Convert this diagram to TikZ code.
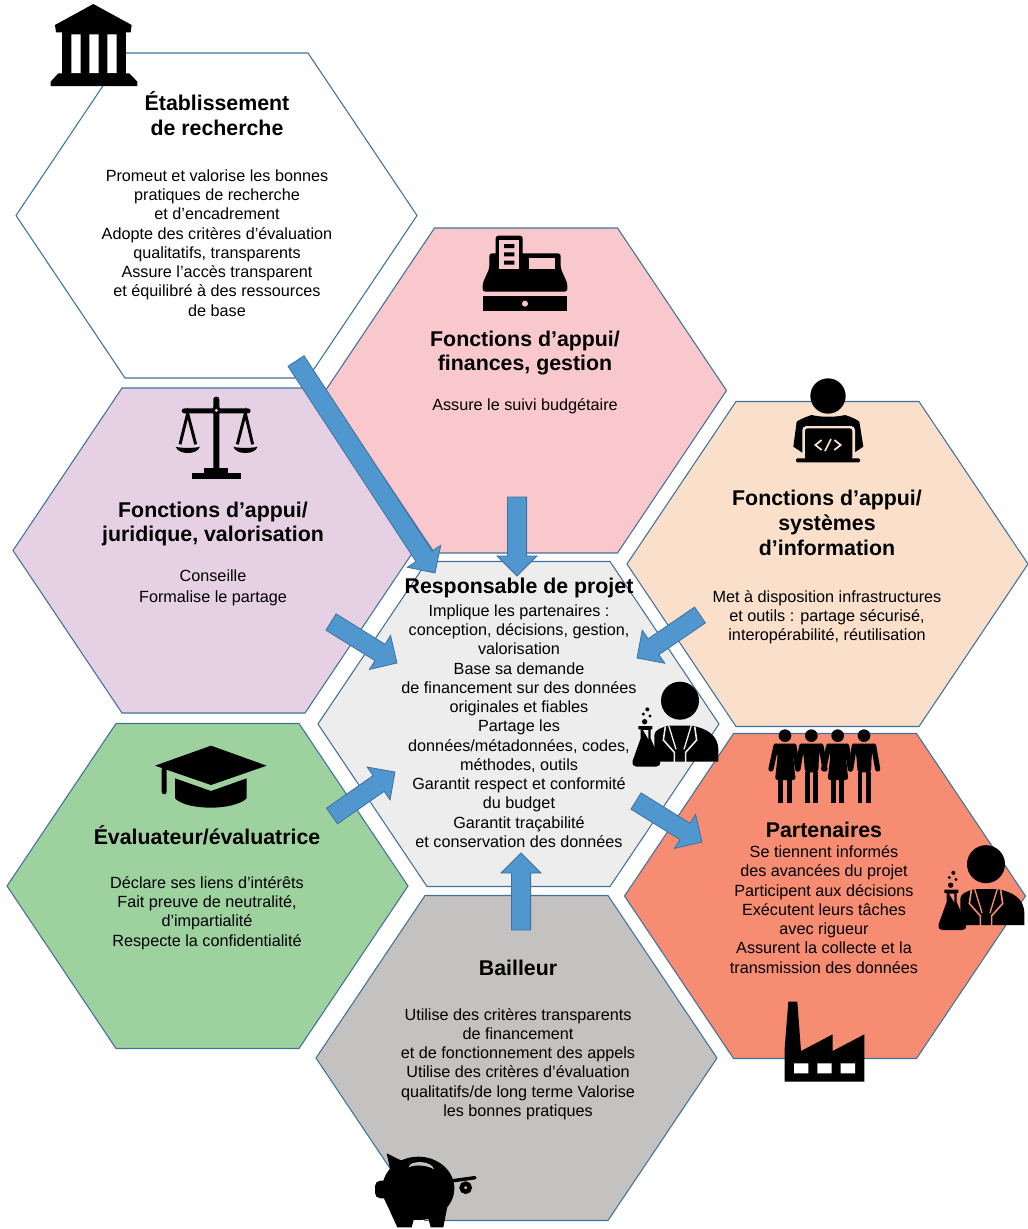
\documentclass[tikz,border=0pt]{standalone}
\usepackage{fontspec}
\setmainfont{Liberation Sans}
\usetikzlibrary{calc}
\definecolor{hexline}{HTML}{41719C}
\definecolor{arrowfill}{HTML}{5097D0}
\definecolor{cpink}{HTML}{F9C8CC}
\definecolor{cpurple}{HTML}{E6D0E4}
\definecolor{cpeach}{HTML}{FADFCB}
\definecolor{cgreen}{HTML}{9DD29F}
\definecolor{corange}{HTML}{F68C71}
\definecolor{cgrey}{HTML}{C3C2C0}
\definecolor{ccentre}{HTML}{EDEDED}
\tikzset{
  hexa/.style={draw=hexline,line width=0.8pt,line join=miter},
  blockarrow/.style={draw=hexline,fill=arrowfill,line width=0.6pt,line join=miter},
  zoomed/.style 2 args={shift={(#1,#2)},x=0.25pt,y=-0.25pt},
  titletext/.style={inner sep=0pt,align=center,font=\fontsize{16}{18.7}\selectfont\bfseries},
  bodytext/.style={inner sep=0pt,align=center,font=\fontsize{12.15}{14.44}\selectfont},
}
\newcommand{\hexagonat}[3]{%
  \draw[hexa,fill=#3] (#1-200.5,#2) -- (#1-91.5,#2-162.5) -- (#1+91.5,#2-162.5) -- (#1+200.5,#2) -- (#1+91.5,#2+162.5) -- (#1-91.5,#2+162.5) -- cycle;}
\newcommand{\blockarr}[2]{%
  \coordinate (n) at ($(#2)!15pt!(#1)$);
  \draw[blockarrow] ($(#1)!7.2pt!90:(#2)$) -- ($(n)!7.2pt!90:(#2)$) -- ($(n)!15pt!90:(#2)$) -- (#2) -- ($(n)!15pt!-90:(#2)$) -- ($(n)!7.2pt!-90:(#2)$) -- ($(#1)!7.2pt!-90:(#2)$) -- cycle;}
\newcommand{\scientist}[1]{%
  \fill (180,92) circle (57);
  \fill (104,275) -- (103,195) .. controls (103,180) and (125,172) .. (145,167) -- (215,167) .. controls (260,175) and (295,195) .. (295,240) -- (295,275) -- cycle;
  \draw[#1,line width=1.2pt] (136,170) -- (130,210) -- (163,247) -- (163,278);
  \draw[#1,line width=1.2pt] (224,170) -- (230,210) -- (197,247) -- (197,278);
  \draw[#1,line width=1pt] (146,166) -- (168,238);
  \draw[#1,line width=1pt] (214,166) -- (192,238);
  \fill[#1] (95,170) rectangle (103,285);
  \fill (55,168) -- (97,168) -- (97,178) -- (92,178) -- (92,205) -- (120,272) .. controls (123,285) and (115,290) .. (108,290) -- (50,290) .. controls (42,290) and (35,285) .. (38,272) -- (62,205) -- (62,178) -- (55,178) -- cycle;
  \fill[#1] (69,180) -- (85,180) -- (85,207) -- cycle;
  \fill (74,155) circle (8);
  \fill (70,132) circle (5);
  \fill (82,118) circle (6);
  \fill (90,138) circle (5);}
\newcommand{\womanfig}[2]{\begin{scope}[shift={(#1,#2)}]
  \fill (0,0) circle (19);
  \fill[rounded corners=2pt] (-30,24) -- (30,24) -- (24,60) -- (32,133) -- (-30,133) -- (-22,60) -- cycle;
  \fill (-20,133) rectangle (-5,201);
  \fill (5,133) rectangle (20,201);
  \draw[line width=3.9pt,line cap=round] (-27,31) -- (-42,100);
  \draw[line width=3.9pt,line cap=round] (27,31) -- (38,100);
\end{scope}}
\newcommand{\manfig}[2]{\begin{scope}[shift={(#1,#2)}]
  \fill (0,0) circle (19);
  \fill[rounded corners=2pt] (-33,24) -- (33,24) -- (23,60) -- (21,110) -- (-19,110) -- (-23,60) -- cycle;
  \fill (-19,108) rectangle (-5,201);
  \fill (6,108) rectangle (21,201);
  \draw[line width=3.9pt,line cap=round] (-29,31) -- (-40,100);
  \draw[line width=3.9pt,line cap=round] (29,31) -- (41,100);
\end{scope}}
\begin{document}
\begin{tikzpicture}[x=0.75pt,y=-0.75pt]
\useasboundingbox (0,0) rectangle (1028,1229);
% hexagons
\hexagonat{216.5}{215.5}{white}
\hexagonat{526}{390.5}{cpink}
\hexagonat{213.5}{550.5}{cpurple}
\hexagonat{827.5}{564}{cpeach}
\hexagonat{518.5}{724}{ccentre}
\hexagonat{207.5}{886}{cgreen}
\hexagonat{825}{896}{corange}
\hexagonat{516.5}{1058}{cgrey}
% arrows
\coordinate (a1s) at (296,361); \coordinate (a1t) at (435,573);
\coordinate (a2s) at (517,497); \coordinate (a2t) at (517,576);
\coordinate (a3s) at (331,622); \coordinate (a3t) at (397,663);
\coordinate (a4s) at (700,615); \coordinate (a4t) at (637,658);
\coordinate (a5s) at (332,816); \coordinate (a5t) at (395,772);
\coordinate (a6s) at (521,930); \coordinate (a6t) at (521,853);
\coordinate (a7s) at (636,801); \coordinate (a7t) at (702,842);
\blockarr{a1s}{a1t}
\blockarr{a2s}{a2t}
\blockarr{a3s}{a3t}
\blockarr{a4s}{a4t}
\blockarr{a5s}{a5t}
\blockarr{a6s}{a6t}
\blockarr{a7s}{a7t}
% bank
\begin{scope}[zoomed={30}{0}]
  \fill (190,12) -- (305,75) -- (302,97) -- (78,97) -- (75,75) -- cycle;
  \fill (97,97) rectangle (287,222);
  \fill[white] (124,103) rectangle (152,220) (178,103) rectangle (206,220) (232,103) rectangle (260,220);
  \fill (85,220) -- (298,220) -- (322,245) -- (322,258) -- (62,258) -- (62,245) -- cycle;
\end{scope}
% cash register
\begin{scope}[zoomed={460}{225}]
  \fill[rounded corners=2pt] (107,32) rectangle (188,140);
  \fill[rounded corners=2pt] (88,85) -- (88,130) -- (68,175) -- (68,200) -- (322,200) -- (322,175) -- (302,130) -- (302,85) -- cycle;
  \fill[cpink] (118,45) rectangle (176,132);
  \fill (132,57) rectangle (163,69) (132,82) rectangle (163,94) (132,107) rectangle (163,119);
  \fill[cpink] (208,100) rectangle (285,132);
  \fill (68,213) rectangle (322,258);
  \fill[cpink] (195,236) circle (9);
\end{scope}
% scales
\begin{scope}[zoomed={160}{385}]
  \fill[rounded corners=2pt] (160,35) rectangle (178,265);
  \fill[rounded corners=2pt] (65,70) rectangle (272,85);
  \fill (169,76) circle (13);
  \fill[cpurple] (169,76) circle (5);
  \fill (132,250) rectangle (205,265);
  \fill (97,263) rectangle (243,282);
  \draw[line width=2.2pt] (60,178) -- (83,85) -- (107,178);
  \draw[line width=2.2pt] (232,178) -- (256,85) -- (278,178);
  \fill (47,185) .. controls (60,190) and (107,190) .. (120,185) .. controls (115,198) and (100,204) .. (83,204) .. controls (66,204) and (52,198) .. (47,185) -- cycle;
  \fill (220,185) .. controls (233,190) and (280,190) .. (293,185) .. controls (288,198) and (273,204) .. (256,204) .. controls (239,204) and (225,198) .. (220,185) -- cycle;
\end{scope}
% coder
\begin{scope}[zoomed={770}{370}]
  \fill (174,78) circle (53);
  \fill (70,230) -- (80,155) .. controls (95,145) and (110,140) .. (125,135) .. controls (150,142) and (200,142) .. (225,135) .. controls (240,140) and (255,145) .. (268,155) -- (280,230) -- (250,250) -- (100,250) -- cycle;
  \fill[cpeach,rounded corners=3pt] (97,168) rectangle (255,270);
  \fill[rounded corners=2pt] (105,175) rectangle (247,270);
  \fill[rounded corners=1pt] (78,265) rectangle (270,277);
  \draw[cpeach,line width=1.3pt] (155,210) -- (136,225) -- (155,240);
  \draw[cpeach,line width=1.3pt] (183,207) -- (165,243);
  \draw[cpeach,line width=1.3pt] (193,210) -- (212,225) -- (193,240);
\end{scope}
% scientist in the centre
\begin{scope}[zoomed={620}{670}]
  \scientist{ccentre}
\end{scope}
% people
\begin{scope}[zoomed={760}{720}]
  \womanfig{75}{47}
  \manfig{154}{47}
  \womanfig{233}{47}
  \manfig{312}{47}
\end{scope}
% scientist among partners
\begin{scope}[zoomed={926}{833.5}]
  \scientist{corange}
\end{scope}
% factory
\begin{scope}[zoomed={770}{995}]
  \fill (44,260) -- (44,160) -- (55,20) -- (82,20) -- (93,168) -- (188,118) -- (188,168) -- (283,118) -- (283,260) -- cycle;
  \fill[white] (72,205) rectangle (115,235) (142,205) rectangle (185,235) (212,205) rectangle (255,235);
\end{scope}
% piggy bank
\begin{scope}[zoomed={360}{1140}]
  \fill (175,145) ellipse (108 and 95);
  \fill (80,40) -- (125,62) -- (100,130) -- (92,95) -- cycle;
  \fill[rounded corners=4pt] (45,122) rectangle (110,175);
  \fill (70,170) -- (112,262) -- (155,262) -- (165,225) -- cycle;
  \fill (205,235) -- (212,262) -- (250,262) -- (262,200) -- cycle;
  \fill[cgrey] (146,82) .. controls (148,60) and (215,60) .. (222,88) .. controls (205,76) and (165,72) .. (146,82) -- cycle;
  \draw[line width=2.6pt,line cap=round] (280,122) -- (345,113);
  \draw[line width=3.4pt] (317,143) circle (12);
\end{scope}
% graduation cap
\begin{scope}[zoomed={140}{735}]
  \fill (45,92) -- (213,32) -- (380,92) -- (213,150) -- cycle;
  \fill[rounded corners=2pt] (65,95) rectangle (80,178);
  \fill (105,130) -- (213,168) -- (320,130) -- (320,190) .. controls (300,210) and (250,218) .. (213,218) .. controls (170,218) and (125,210) .. (105,190) -- cycle;
\end{scope}
% texts
\node[titletext] (etabt) at (217,114) {Établissement\\de recherche};
\node[bodytext] (etabb) at (217,243) {Promeut et valorise les bonnes\\pratiques de recherche\\et d’encadrement\\Adopte des critères d’évaluation\\qualitatifs, transparents\\Assure l’accès transparent\\et équilibré à des ressources\\de base};
\node[titletext] (fint) at (525,353) {Fonctions d’appui/\\finances, gestion};
\node[bodytext] (finb) at (525,406) {Assure le suivi budgétaire};
\node[titletext] (jurt) at (213,524) {Fonctions d’appui/\\juridique, valorisation};
\node[bodytext] (jurb) at (213,588) {Conseille\\[1.5pt]Formalise le partage};
\node[titletext] (sit) at (827,523) {Fonctions d’appui/\\systèmes\\d’information};
\node[bodytext] (sib) at (827,617) {Met à disposition infrastructures\\et outils : partage sécurisé,\\interopérabilité, réutilisation};
\node[titletext] (cent) at (519,588) {Responsable de projet};
\node[bodytext] (cenb) at (519,726) {Implique les partenaires :\\conception, décisions, gestion,\\valorisation\\Base sa demande\\de financement sur des données\\originales et fiables\\Partage les\\données/métadonnées, codes,\\méthodes, outils\\Garantit respect et conformité\\du budget\\Garantit traçabilité\\et conservation des données};
\node[titletext] (evat) at (207,835) {Évaluateur/évaluatrice};
\node[bodytext] (evab) at (207,913) {Déclare ses liens d’intérêts\\Fait preuve de neutralité,\\d’impartialité\\Respecte la confidentialité};
\node[titletext] (part) at (824,830) {Partenaires};
\node[bodytext] (parb) at (824,909.5) {Se tiennent informés\\des avancées du projet\\Participent aux décisions\\Exécutent leurs tâches\\avec rigueur\\Assurent la collecte et la\\transmission des données};
\node[titletext] (bailt) at (518,968) {Bailleur};
\node[bodytext] (bailb) at (518,1064) {Utilise des critères transparents\\de financement\\et de fonctionnement des appels\\Utilise des critères d’évaluation\\qualitatifs/de long terme Valorise\\les bonnes pratiques};
\end{tikzpicture}
\end{document}
